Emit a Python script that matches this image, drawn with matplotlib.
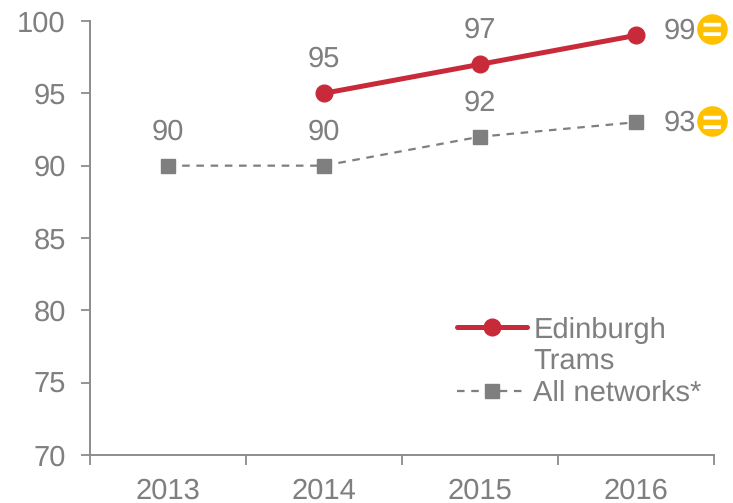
import matplotlib
matplotlib.use("Agg")
import matplotlib.pyplot as plt
from matplotlib.lines import Line2D
from matplotlib.transforms import offset_copy

years = ["2013", "2014", "2015", "2016"]
trams_x = [1, 2, 3]
trams = [95, 97, 99]
all_networks = [90, 90, 92, 93]
yticks = [70, 75, 80, 85, 90, 95, 100]

RED = "#C82A3A"
GREY = "#7F7F7F"
TEXT = "#7F7F7F"
AXIS = "#8C8C8C"
YELLOW = "#FFC000"
FS = 21

plt.rcParams["font.family"] = ["Liberation Sans", "DejaVu Sans"]
plt.rcParams["font.size"] = FS
plt.rcParams["text.hinting"] = "no_hinting"

W, H = 733, 503
fig = plt.figure(figsize=(W / 100, H / 100), dpi=100)
ax = fig.add_axes([90 / W, 1 - 455 / H, (713.5 - 90) / W, (455 - 21) / H])

red_style = dict(color=RED, lw=3.6, marker="o", ms=12, solid_capstyle="round")
grey_style = dict(color=GREY, lw=1.6, ls=(0, (3.4, 3.0)), marker="s", ms=10)
ax.plot(trams_x, trams, clip_on=False, zorder=3, **red_style)
ax.plot(range(4), all_networks, clip_on=False, zorder=3, **grey_style)

ax.set_xlim(-0.5, 3.5)
ax.set_ylim(70, 100)
ax.set_yticks(yticks)
ax.set_xticks([-0.5, 0.5, 1.5, 2.5, 3.5])
ax.set_xticklabels([])
# year labels sit between the ticks
ax.set_xticks(range(4), minor=True)
ax.set_xticklabels(years, minor=True)
ax.tick_params(axis="x", which="major", direction="out", length=7, width=1.3, color=AXIS)
ax.tick_params(axis="x", which="minor", length=0, pad=16, labelcolor=TEXT, labelsize=FS)
ax.tick_params(axis="y", direction="out", length=6.5, width=1.3, color=AXIS, labelcolor=TEXT, labelsize=FS, pad=11)
for s in ["top", "right"]:
    ax.spines[s].set_visible(False)
for s in ["left", "bottom"]:
    ax.spines[s].set_color(AXIS)
    ax.spines[s].set_linewidth(1.4)

# value labels above the points
for x, v in zip(trams_x[:2], trams[:2]):
    ax.annotate(str(v), (x, v), xytext=(0, 24.5), textcoords="offset points", ha="center", va="center",
                color=TEXT, fontsize=FS)
for x, v in zip(range(3), all_networks[:3]):
    ax.annotate(str(v), (x, v), xytext=(0, 24), textcoords="offset points", ha="center", va="center",
                color=TEXT, fontsize=FS)

# last points: label to the right plus the "no change" badge
for v, lift, badge_lift in [(trams[-1], 3.2, 5), (all_networks[-1], -0.7, 0.7)]:
    ax.annotate(str(v), (3, v), xytext=(20, lift), textcoords="offset points", ha="left", va="center",
                color=TEXT, fontsize=FS)
    badge_at = offset_copy(ax.transData, fig=fig, x=55, y=badge_lift, units="points")
    ax.plot([3], [v], marker="o", ms=22, color=YELLOW, mec="none", transform=badge_at,
            clip_on=False, zorder=4)
    ax.annotate("=", (3, v), xytext=(55, badge_lift), textcoords="offset points", ha="center",
                va="center_baseline", color="white", fontsize=25, fontweight="bold", zorder=5,
                annotation_clip=False)

# one row per text line so the marker lines up with the first line of the name
handles = [Line2D([], [], **red_style), Line2D([], [], lw=0), Line2D([], [], **grey_style)]
ax.legend(handles, ["Edinburgh", "Trams", "All networks*"], loc="lower left",
          bbox_to_anchor=(457 / W, 1 - 407 / H), bbox_transform=fig.transFigure,
          frameon=False, labelcolor=TEXT, fontsize=FS, handlelength=2.4, handletextpad=0.22,
          labelspacing=0.16, borderpad=0, borderaxespad=0)

fig.savefig("out.png", dpi=100)
